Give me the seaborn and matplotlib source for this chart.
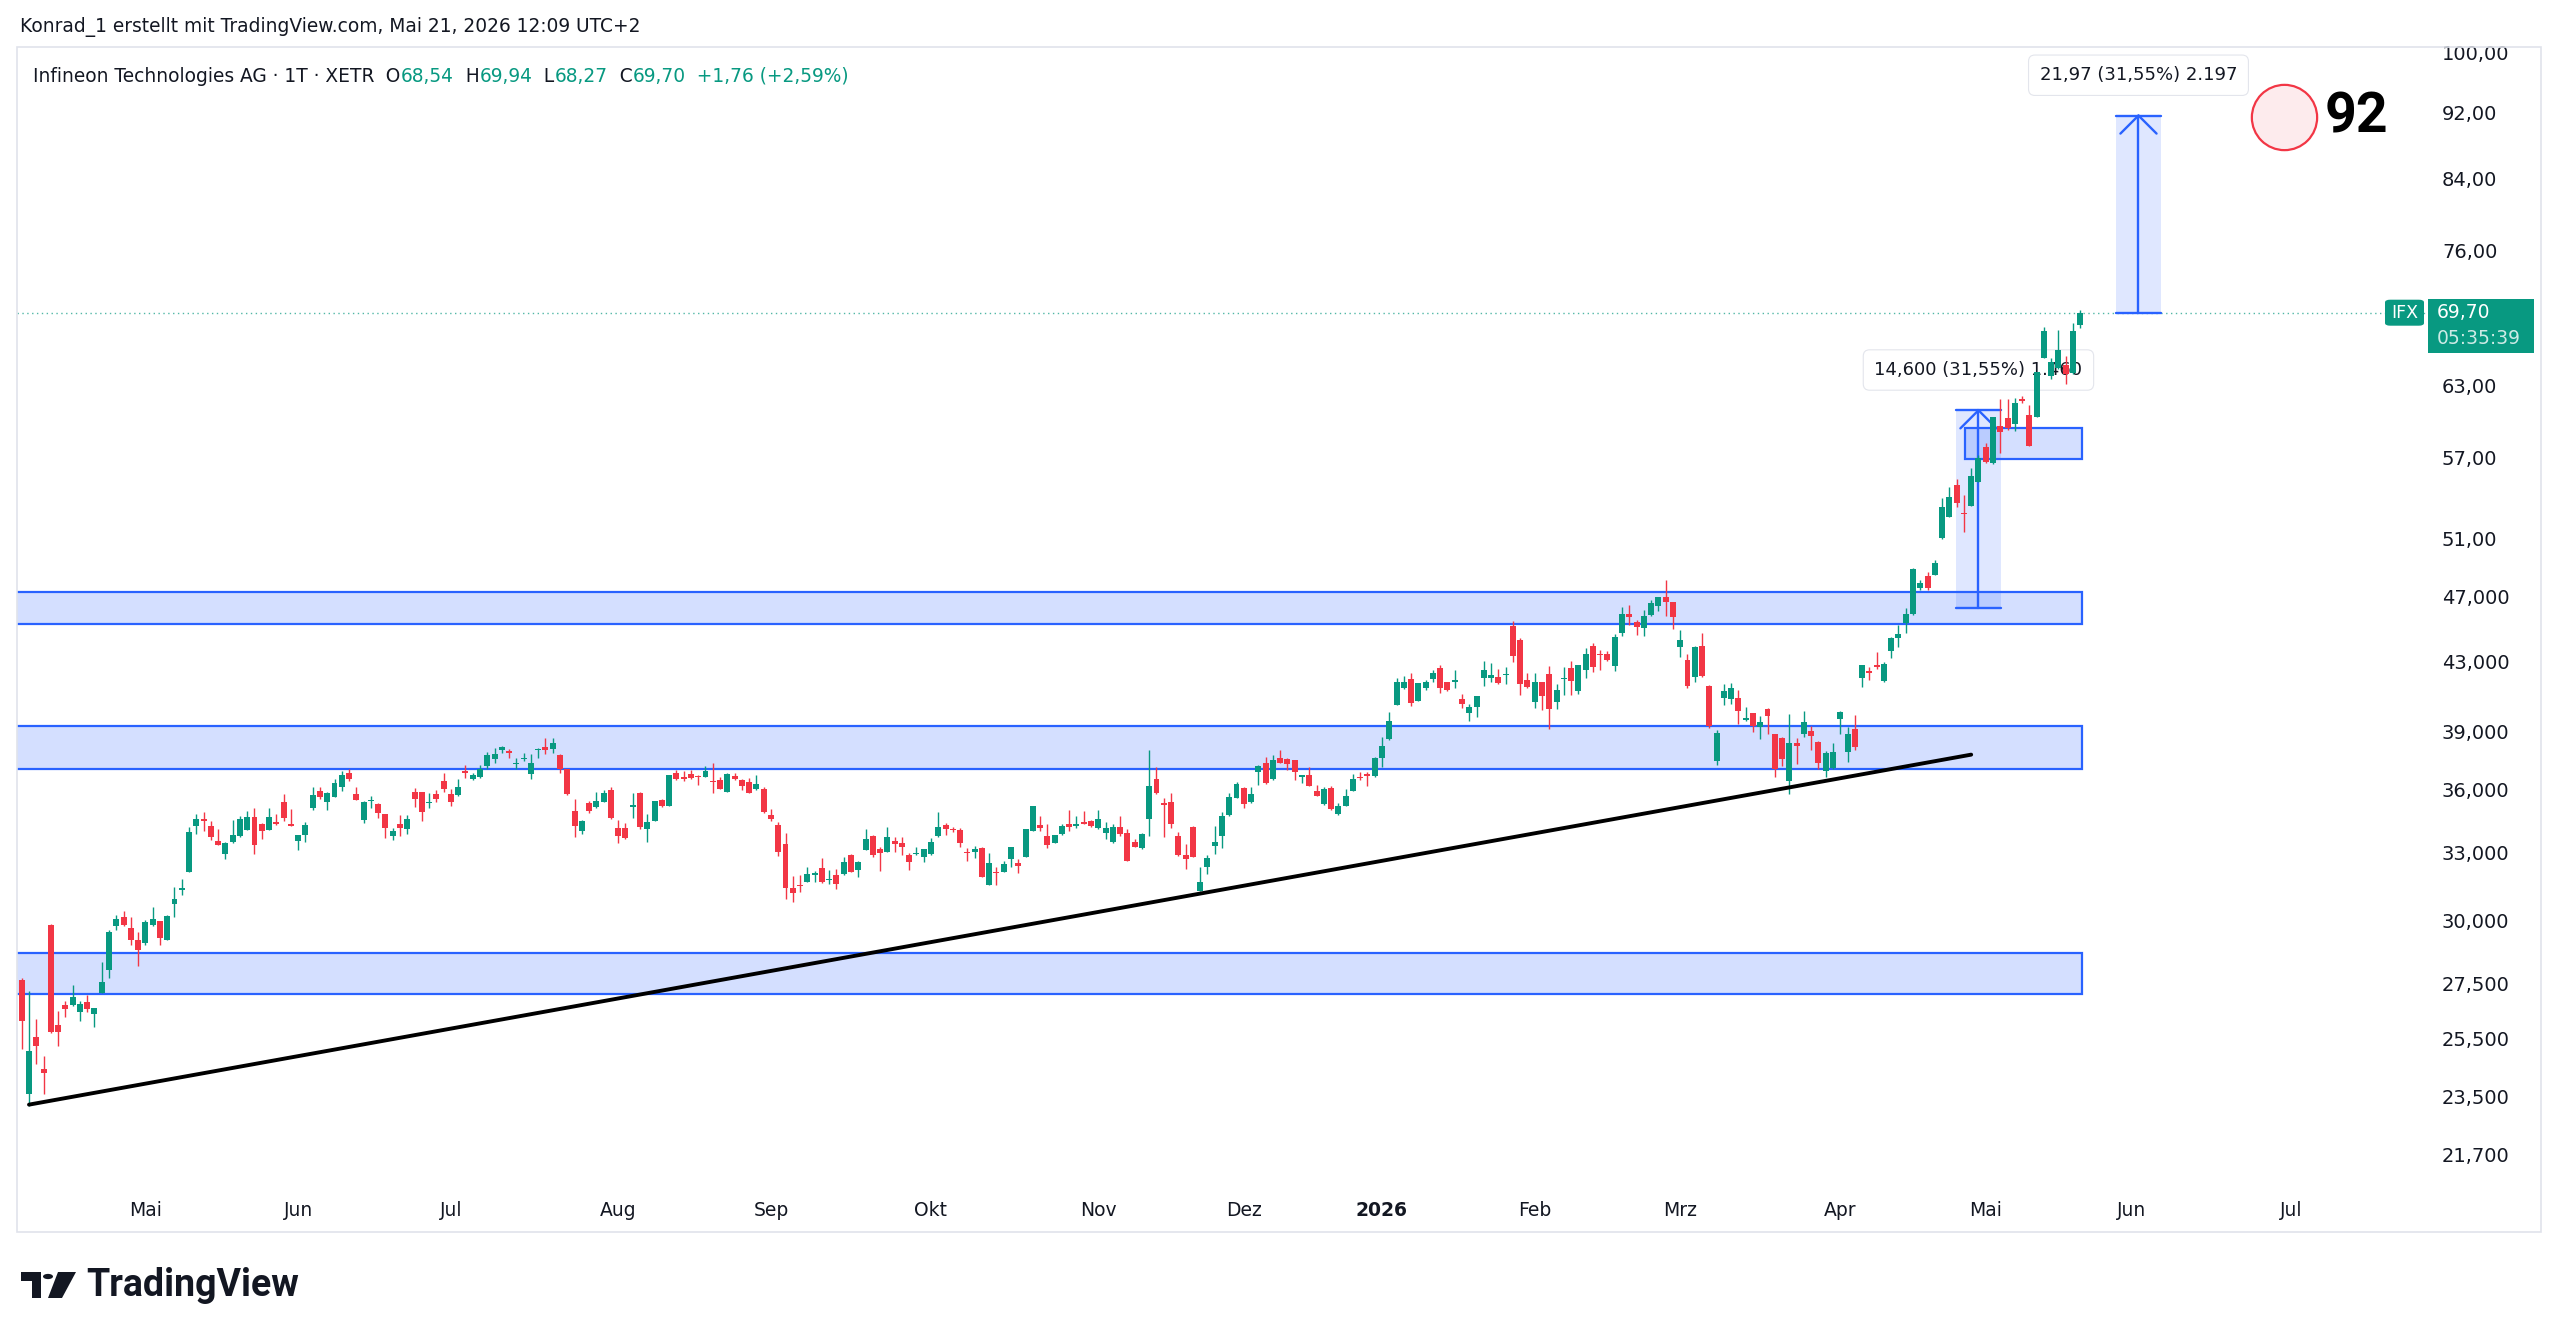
import numpy as np
import pandas as pd
import seaborn as sns
import matplotlib.pyplot as plt
from matplotlib.patches import Rectangle, Polygon, Circle, FancyBboxPatch
from matplotlib.ticker import NullLocator, NullFormatter

# daily candles, Infineon (XETR)
start_day = "2025-04-04"
xetra_holidays = ["2025-04-18", "2025-04-21", "2025-05-01", "2025-12-24", "2025-12-25",
                  "2025-12-26", "2025-12-31", "2026-01-01", "2026-04-03", "2026-04-06",
                  "2026-05-01"]

opens = [27.65, 23.60, 25.54, 24.43, 29.82, 25.96, 26.69, 26.69, 26.44, 26.79,
         26.38, 27.15, 28.04, 29.80, 30.14, 29.71, 29.20, 29.07, 29.82, 29.98,
         29.23, 30.70, 31.29, 32.11, 34.22, 34.57, 34.21, 33.50, 32.93, 33.47,
         33.75, 34.01, 34.62, 34.30, 34.01, 34.41, 35.35, 34.30, 33.52, 33.80,
         35.10, 35.91, 35.39, 35.63, 36.10, 36.80, 35.76, 34.49, 35.42, 35.25,
         34.77, 33.74, 34.30, 34.07, 35.84, 35.84, 35.33, 35.74, 36.41, 35.74,
         35.71, 36.91, 36.50, 36.60, 37.17, 37.53, 38.03, 37.95, 37.27, 37.53,
         36.75, 38.00, 38.17, 38.05, 37.74, 37.02, 34.93, 33.97, 35.30, 35.14,
         35.38, 35.95, 34.13, 34.10, 35.11, 35.82, 34.06, 34.46, 35.46, 35.19,
         36.80, 36.64, 36.77, 36.67, 36.64, 36.41, 36.47, 35.88, 36.65, 36.46,
         36.38, 36.00, 36.00, 34.75, 34.26, 33.39, 31.38, 31.52, 31.67, 31.98,
         32.28, 31.74, 31.96, 31.99, 32.86, 32.20, 33.09, 33.74, 33.14, 33.01,
         33.52, 33.43, 32.86, 32.91, 32.79, 32.89, 33.72, 34.26, 34.09, 34.03,
         33.01, 33.01, 33.17, 31.53, 32.12, 32.12, 32.68, 32.52, 32.79, 33.99,
         34.26, 33.74, 33.43, 33.82, 34.31, 34.22, 34.41, 34.45, 34.10, 33.86,
         33.47, 34.18, 33.86, 33.47, 33.17, 34.54, 36.51, 35.30, 35.35, 33.74,
         32.86, 34.18, 31.28, 32.34, 33.29, 33.75, 34.73, 35.59, 36.07, 35.35,
         36.85, 37.34, 36.51, 37.62, 37.53, 37.48, 36.64, 36.71, 35.91, 35.25,
         36.04, 34.78, 35.19, 35.92, 36.61, 36.75, 36.66, 37.62, 38.59, 40.46,
         41.40, 41.94, 40.68, 41.40, 41.94, 42.60, 41.78, 41.78, 40.79, 39.99,
         40.36, 42.03, 41.99, 42.08, 42.15, 45.14, 44.27, 41.88, 40.64, 41.78,
         42.21, 40.64, 41.92, 42.60, 41.27, 42.50, 43.90, 43.44, 43.40, 42.72,
         44.68, 45.89, 45.38, 45.00, 45.83, 46.43, 46.97, 46.69, 43.86, 43.09,
         42.08, 43.90, 41.55, 37.43, 40.88, 40.79, 40.87, 39.63, 39.99, 39.22,
         40.21, 38.86, 38.66, 36.41, 38.41, 38.86, 39.04, 38.45, 36.90, 37.07,
         39.71, 37.92, 39.16, 41.98, 42.39, 42.76, 41.81, 43.62, 44.37, 45.32,
         45.88, 47.60, 48.38, 48.45, 50.97, 52.53, 54.89, 52.80, 53.31, 55.13,
         57.83, 56.56, 59.57, 60.27, 59.73, 61.80, 60.48, 60.33, 65.48, 63.84,
         64.58, 64.84, 64.08, 68.54]

highs = [27.70, 27.20, 26.18, 24.87, 29.85, 26.47, 26.85, 27.44, 26.85, 27.06,
         26.60, 28.35, 29.60, 30.24, 30.42, 30.17, 29.55, 30.03, 30.59, 30.00,
         30.24, 31.42, 31.77, 34.18, 34.81, 34.86, 34.44, 34.06, 33.45, 34.52,
         34.68, 34.94, 35.10, 34.35, 35.10, 34.81, 35.76, 35.02, 33.80, 34.38,
         36.12, 36.09, 35.85, 36.50, 36.90, 37.00, 36.12, 35.40, 35.68, 35.30,
         34.80, 34.10, 34.73, 34.73, 36.04, 35.86, 35.79, 35.95, 36.80, 35.99,
         36.52, 37.22, 36.80, 37.22, 37.92, 38.12, 38.22, 38.09, 37.57, 37.88,
         37.82, 38.12, 38.64, 38.64, 37.78, 37.05, 35.54, 34.48, 35.41, 35.87,
         35.95, 36.09, 34.49, 34.35, 35.82, 35.86, 34.77, 35.43, 35.54, 36.74,
         36.97, 36.90, 36.97, 36.72, 37.19, 37.36, 36.60, 36.80, 36.80, 36.50,
         36.59, 36.72, 36.09, 35.01, 34.39, 33.88, 31.92, 31.96, 32.32, 32.15,
         32.74, 32.20, 32.23, 32.76, 32.90, 32.60, 34.06, 33.78, 33.21, 34.15,
         33.71, 33.68, 32.97, 33.21, 33.14, 33.63, 34.86, 34.34, 34.18, 34.10,
         33.20, 33.28, 33.24, 32.94, 32.32, 32.60, 33.23, 32.66, 34.08, 35.19,
         34.69, 34.31, 33.81, 34.31, 34.98, 34.70, 34.93, 34.50, 34.97, 34.38,
         34.33, 34.70, 34.07, 33.58, 33.86, 38.00, 37.14, 35.58, 35.79, 33.94,
         33.37, 34.20, 32.31, 32.86, 34.22, 34.89, 35.79, 36.37, 36.09, 36.12,
         37.21, 37.66, 37.74, 38.00, 37.57, 37.50, 36.73, 37.14, 36.21, 36.12,
         36.17, 35.33, 36.01, 36.75, 36.85, 36.88, 37.64, 38.72, 40.09, 41.98,
         42.13, 42.27, 41.71, 41.88, 42.47, 42.76, 41.80, 42.50, 41.11, 40.51,
         40.98, 43.01, 42.89, 42.56, 42.66, 45.47, 44.37, 42.27, 42.27, 41.80,
         42.70, 41.68, 42.62, 42.99, 42.78, 43.76, 44.08, 43.67, 43.63, 44.64,
         46.32, 46.46, 45.51, 46.15, 46.79, 47.01, 48.11, 46.70, 44.89, 43.40,
         43.90, 44.72, 41.58, 39.08, 41.63, 41.72, 41.30, 40.36, 40.00, 39.87,
         40.32, 38.88, 38.68, 39.96, 38.66, 40.14, 39.30, 38.47, 37.95, 38.37,
         40.13, 39.25, 39.89, 42.78, 42.67, 43.56, 42.96, 44.48, 45.20, 46.26,
         48.90, 48.11, 48.67, 49.47, 53.88, 54.70, 55.32, 54.14, 56.17, 57.22,
         58.20, 60.35, 61.80, 61.80, 61.94, 62.08, 61.32, 64.24, 68.36, 65.42,
         68.04, 65.64, 68.67, 69.94]

lows = [25.10, 23.20, 24.60, 23.61, 25.68, 25.23, 26.27, 26.65, 26.12, 26.44,
        25.90, 27.15, 27.70, 29.63, 29.80, 29.00, 28.19, 29.00, 29.80, 29.00,
        29.20, 30.17, 31.07, 32.10, 33.83, 33.97, 33.55, 33.30, 32.66, 33.40,
        33.70, 34.00, 32.93, 33.60, 34.00, 34.25, 34.46, 34.20, 33.09, 33.47,
        35.00, 35.52, 35.00, 35.60, 35.90, 36.40, 35.45, 34.35, 35.06, 34.58,
        33.66, 33.56, 33.74, 33.84, 35.14, 34.46, 35.06, 35.38, 35.87, 35.19,
        35.68, 36.55, 36.46, 36.58, 37.05, 37.36, 37.86, 37.57, 37.00, 37.43,
        36.50, 37.60, 37.79, 37.88, 36.80, 35.70, 33.71, 33.84, 34.82, 35.10,
        35.36, 34.54, 33.40, 33.60, 34.58, 34.06, 33.48, 34.44, 35.14, 35.17,
        36.47, 36.40, 36.52, 36.20, 36.60, 35.82, 36.00, 35.85, 36.49, 35.96,
        35.80, 35.98, 34.85, 34.46, 32.83, 30.93, 30.78, 31.24, 31.64, 31.67,
        31.62, 31.56, 31.34, 31.97, 32.10, 31.86, 33.07, 32.76, 32.16, 33.00,
        33.01, 32.86, 32.20, 32.86, 32.53, 32.87, 33.70, 33.80, 33.95, 33.21,
        32.60, 32.71, 31.87, 31.51, 31.53, 32.10, 32.31, 32.07, 32.76, 33.96,
        33.96, 33.17, 33.40, 33.80, 33.99, 34.10, 34.30, 34.15, 34.08, 33.58,
        33.40, 33.74, 32.59, 33.21, 33.15, 33.75, 35.77, 33.71, 34.13, 32.84,
        32.23, 32.77, 31.26, 32.00, 32.89, 33.20, 34.71, 35.57, 35.06, 35.30,
        36.21, 36.26, 36.49, 37.34, 36.97, 36.46, 36.29, 36.14, 35.65, 35.23,
        34.99, 34.73, 35.17, 35.90, 36.46, 36.16, 36.64, 37.14, 38.57, 40.44,
        41.35, 40.42, 40.66, 41.31, 41.75, 41.12, 41.27, 41.40, 40.32, 39.57,
        39.81, 41.53, 41.78, 41.68, 41.68, 42.96, 41.05, 41.45, 40.32, 40.17,
        39.16, 40.21, 41.01, 41.01, 41.11, 41.99, 42.33, 42.47, 43.03, 42.43,
        44.53, 45.22, 44.57, 44.51, 45.78, 46.09, 45.78, 44.93, 43.26, 41.40,
        41.78, 42.08, 39.20, 37.22, 40.45, 40.51, 39.40, 39.57, 38.98, 38.59,
        38.86, 36.63, 37.19, 35.74, 37.27, 38.68, 38.01, 37.00, 36.60, 37.00,
        38.88, 37.39, 38.01, 41.50, 41.89, 42.56, 41.79, 43.16, 43.82, 44.69,
        45.86, 47.46, 47.46, 48.43, 50.95, 52.50, 53.26, 51.44, 53.29, 55.11,
        56.56, 56.51, 57.35, 59.24, 59.19, 61.46, 57.94, 60.31, 65.46, 63.54,
        64.43, 63.14, 64.06, 68.27]

closes = [26.10, 25.04, 25.23, 24.28, 25.70, 25.70, 26.55, 27.00, 26.72, 26.55,
          26.57, 27.55, 29.52, 30.07, 29.82, 29.23, 28.80, 29.93, 30.06, 29.30,
          30.20, 30.90, 31.41, 33.94, 34.57, 34.46, 33.70, 33.33, 33.43, 33.81,
          34.57, 34.62, 33.33, 33.98, 34.62, 34.33, 34.60, 34.21, 33.78, 34.25,
          35.71, 35.63, 35.79, 36.32, 36.70, 36.50, 35.47, 35.35, 35.47, 34.82,
          34.10, 33.99, 34.10, 34.55, 35.51, 34.86, 35.38, 35.54, 36.00, 35.38,
          36.12, 36.84, 36.72, 37.00, 37.74, 37.82, 38.17, 37.88, 37.34, 37.60,
          37.34, 38.05, 38.00, 38.40, 37.02, 35.74, 34.22, 34.45, 34.93, 35.41,
          35.82, 34.58, 33.74, 33.66, 35.20, 34.18, 34.38, 35.41, 35.19, 36.72,
          36.52, 36.50, 36.55, 36.60, 36.94, 36.34, 36.02, 36.77, 36.54, 36.18,
          35.82, 36.26, 34.87, 34.55, 33.01, 31.41, 31.16, 31.48, 32.01, 32.04,
          31.64, 31.80, 31.56, 32.56, 32.12, 32.56, 33.60, 32.86, 32.94, 33.71,
          33.39, 33.24, 32.56, 32.97, 33.12, 33.47, 34.18, 34.06, 34.03, 33.43,
          32.95, 33.12, 31.89, 32.52, 32.06, 32.44, 33.21, 32.37, 34.06, 35.17,
          34.10, 33.31, 33.79, 34.21, 34.15, 34.33, 34.33, 34.22, 34.53, 34.13,
          34.18, 33.83, 32.60, 33.24, 33.83, 36.16, 35.79, 35.20, 34.29, 32.86,
          32.66, 32.79, 31.64, 32.75, 33.47, 34.70, 35.63, 36.24, 35.27, 35.74,
          37.19, 36.29, 37.48, 37.36, 37.28, 36.88, 36.71, 36.16, 35.67, 36.01,
          35.01, 35.19, 35.67, 36.51, 36.55, 36.68, 37.62, 38.23, 39.55, 41.79,
          41.75, 40.55, 41.69, 41.79, 42.27, 41.40, 41.30, 41.88, 40.51, 40.36,
          40.96, 42.47, 42.17, 41.74, 42.19, 43.30, 41.68, 41.49, 41.78, 40.96,
          40.21, 41.30, 41.96, 41.84, 42.76, 43.40, 42.62, 43.36, 43.05, 44.47,
          45.93, 45.68, 45.10, 45.76, 46.58, 46.97, 46.69, 45.68, 44.30, 41.53,
          43.86, 42.13, 39.31, 38.90, 41.25, 41.43, 40.14, 39.75, 39.31, 39.53,
          39.85, 37.00, 37.53, 38.40, 38.22, 39.53, 38.77, 37.31, 37.87, 37.92,
          40.08, 38.88, 38.16, 42.76, 42.27, 42.66, 42.82, 44.37, 44.62, 45.90,
          48.83, 47.93, 47.60, 49.24, 53.26, 54.00, 53.51, 52.70, 55.57, 56.95,
          56.69, 60.33, 59.10, 59.37, 61.46, 61.65, 57.96, 64.22, 67.95, 65.10,
          66.18, 64.03, 67.94, 69.70]

# drawings on the chart
zone_low = [27.1, 37.0, 45.3, 56.9]
zone_high = [28.7, 39.3, 47.3, 59.4]
zone_start = [None, None, None, "2026-04-28"]
zone_end = "2026-05-21"

trend_dates = ["2025-04-07", "2026-04-29"]
trend_prices = [23.25, 37.77]

measure_dates = [("2026-04-27", "2026-05-06"), ("2026-05-28", "2026-06-05")]
measure_from = [46.28, 69.64]
measure_to = [60.88, 91.61]
measure_text = ["14,600 (31,55%) 1.460", "21,97 (31,55%) 2.197"]

target_date = "2026-06-30"
target_price = 91.4
target_label = "92"

price_ticks = [100, 92, 84, 76, 63, 57, 51, 47, 43, 39, 36, 33, 30, 27.5, 25.5, 23.5, 21.7]
price_labels = ["100,00", "92,00", "84,00", "76,00", "63,00", "57,00", "51,00", "47,000",
                "43,000", "39,000", "36,000", "33,000", "30,000", "27,500", "25,500",
                "23,500", "21,700"]
month_labels = ["Mai", "Jun", "Jul", "Aug", "Sep", "Okt", "Nov", "Dez", "2026",
                "Feb", "Mrz", "Apr", "Mai", "Jun", "Jul"]

sns.set_theme(style="white")
plt.rcParams['font.family'] = ['DejaVu Sans']

W, H = 2560, 1339
UP, DOWN, BLUE, INK = "#089981", "#f23645", "#2962ff", "#131722"


def fx(px):
    return px / W


def fy(py):
    return 1 - py / H


days = pd.bdate_range(start_day, "2026-08-31", freq="C", holidays=xetra_holidays)


def ix(d):
    return days.get_loc(pd.Timestamp(d))


o, hi, lo, c = map(np.array, (opens, highs, lows, closes))
n = len(c)
x = np.arange(n)
colors = np.where(c >= o, UP, DOWN)
body_bottom = np.minimum(o, c)
body_height = np.maximum(np.abs(c - o), body_bottom * 0.0016)

fig = plt.figure(figsize=(W / 100, H / 100), dpi=100)
fig.patch.set_facecolor("white")
ax = fig.add_axes([fx(17), fy(1186), fx(2428) - fx(17), fy(47) - fy(1186)])
ax.set_yscale("log")
ax.set_ylim(20.77, 100.74)
ax.set_xlim(-0.65, 330.8)
for s in ax.spines.values():
    s.set_visible(False)

# zones
for k in range(len(zone_low)):
    x0 = -10 if zone_start[k] is None else ix(zone_start[k]) + 0.1
    x1 = ix(zone_end) + 0.2
    ax.add_patch(Rectangle((x0, zone_low[k]), x1 - x0, zone_high[k] - zone_low[k],
                           fc=(0.16, 0.38, 1.0, 0.2), ec=BLUE, lw=1.6, zorder=2))

# measure tools
for k, (d0, d1) in enumerate(measure_dates):
    a, b = ix(d0) - 0.15, ix(d1) + 0.15
    xc = (ix(d0) + ix(d1)) / 2
    y0, y1 = measure_from[k], measure_to[k]
    ax.add_patch(Rectangle((a, y0), b - a, y1 - y0, fc=BLUE, alpha=0.15, ec="none", zorder=2))
    ax.plot([xc, xc], [y0, y1], color=BLUE, lw=1.7, zorder=2.5)
    ax.plot([a, b], [y0, y0], color=BLUE, lw=1.7, zorder=2.5)
    ax.plot([a, b], [y1, y1], color=BLUE, lw=1.7, zorder=2.5)
    for dx in (-13, 13):
        ax.annotate("", xy=(xc, y1), xytext=(dx, -13), textcoords="offset points",
                    arrowprops=dict(arrowstyle="-", color=BLUE, lw=1.7, shrinkA=0, shrinkB=0),
                    zorder=2.5)
    ax.annotate(measure_text[k], xy=(xc, y1), xytext=(0, 29), textcoords="offset points",
                ha="center", va="center", fontsize=13, color=INK,
                bbox=dict(boxstyle="round,pad=0.62,rounding_size=0.35", fc="white",
                          ec="#e3e5ec", lw=0.8),
                zorder=3 if k == 0 else 6)

# candles
ax.vlines(x, lo, hi, colors=colors, lw=1.0, zorder=4)
ax.bar(x, body_height, bottom=body_bottom, width=0.82, color=colors, lw=0, zorder=4.5)

# trend line
sns.lineplot(x=[ix(d) for d in trend_dates], y=trend_prices, ax=ax, color="black",
             lw=2.8, zorder=5)

# last price line
ax.axhline(c[-1], color=UP, lw=1.0, ls=(0, (1, 2.5)), alpha=0.7, zorder=1.5)

# target circle
ax.plot(ix(target_date), target_price, "o", ms=47, mfc="#fdebed", mec=DOWN, mew=1.6,
        zorder=6)
ax.annotate(target_label, xy=(ix(target_date), target_price), xytext=(29, 0),
            textcoords="offset points", ha="left", va="center", fontsize=40,
            fontweight="bold", family="Roboto", color="black")

# axes ticks
ax.yaxis.tick_right()
ax.set_yticks(price_ticks)
ax.set_yticklabels(price_labels)
ax.yaxis.set_minor_locator(NullLocator())
ax.yaxis.set_minor_formatter(NullFormatter())
ax.tick_params(axis="y", length=0, pad=10, labelsize=14, labelcolor=INK)

month_starts = pd.date_range("2025-05-01", "2026-07-01", freq="MS")
ax.set_xticks([days.searchsorted(m) for m in month_starts])
ax.set_xticklabels(month_labels)
ax.tick_params(axis="x", length=0, pad=11, labelsize=13.5, labelcolor=INK)
for t in ax.get_xticklabels():
    if t.get_text() == "2026":
        t.set_fontweight("bold")

# outer frame
fig.add_artist(Rectangle((fx(17), fy(1232)), fx(2541) - fx(17), fy(47) - fy(1232),
                         fill=False, ec="#e0e3eb", lw=1.2, transform=fig.transFigure))

# price tag of the last close
py = H - ax.transData.transform((0, c[-1]))[1]
fig.add_artist(FancyBboxPatch((fx(2385), fy(py + 13)), fx(2424) - fx(2385), 26 / H,
                              boxstyle="round,pad=0,rounding_size=0.002", fc=UP, ec="none",
                              transform=fig.transFigure))
fig.text(fx(2404.5), fy(py), "IFX", color="white", fontsize=12.5, ha="center", va="center")
fig.add_artist(Rectangle((fx(2428), fy(py + 40)), (2534 - 2428) / W, 54 / H, fc=UP,
                         ec="none", transform=fig.transFigure))
fig.text(fx(2437), fy(py), f"{c[-1]:.2f}".replace(".", ","), color="white", fontsize=13.5,
         va="center")
fig.text(fx(2437), fy(py + 26), "05:35:39", color="white", alpha=0.8, fontsize=13.5,
         va="center")

# header
fig.text(fx(20), fy(27), "Konrad_1 erstellt mit TradingView.com, Mai 21, 2026 12:09 UTC+2",
         fontsize=13.4, color=INK, va="center")
chg = c[-1] - c[-2]
parts = [("Infineon Technologies AG · 1T · XETR", INK),
         ("  O", INK), (f"{o[-1]:.2f}".replace(".", ","), UP),
         ("  H", INK), (f"{hi[-1]:.2f}".replace(".", ","), UP),
         ("  L", INK), (f"{lo[-1]:.2f}".replace(".", ","), UP),
         ("  C", INK), (f"{c[-1]:.2f}".replace(".", ","), UP),
         (f"  {chg:+.2f} ({chg / c[-2] * 100:+.2f}%)".replace(".", ","), UP)]
t = fig.text(fx(33), fy(76), parts[0][0], fontsize=13.4, color=parts[0][1], va="center")
for s, col in parts[1:]:
    t = ax.annotate(s, xy=(1, 0), xycoords=t, va="bottom", ha="left", fontsize=13.4,
                    color=col, annotation_clip=False)

# TradingView logo
logo = [Polygon([(21, 1272), (41, 1272), (41, 1298), (32, 1298), (32, 1281), (21, 1281)]),
        Polygon([(58, 1272), (76, 1272), (62, 1298), (48, 1298)])]
for p in logo:
    xy = np.array(p.get_xy())
    fig.add_artist(Polygon(np.column_stack([xy[:, 0] / W, 1 - xy[:, 1] / H]), closed=True,
                           fc="#131722", ec="none", transform=fig.transFigure))
fig.add_artist(Circle((fx(48), fy(1276.5)), 5 / W, fc="#131722", ec="none",
                      transform=fig.transFigure))
fig.text(fx(86), fy(1285), "TradingView", fontsize=27, fontweight="bold", family="Roboto",
         color="#131722", va="center")

fig.savefig("out.png", dpi=100)
